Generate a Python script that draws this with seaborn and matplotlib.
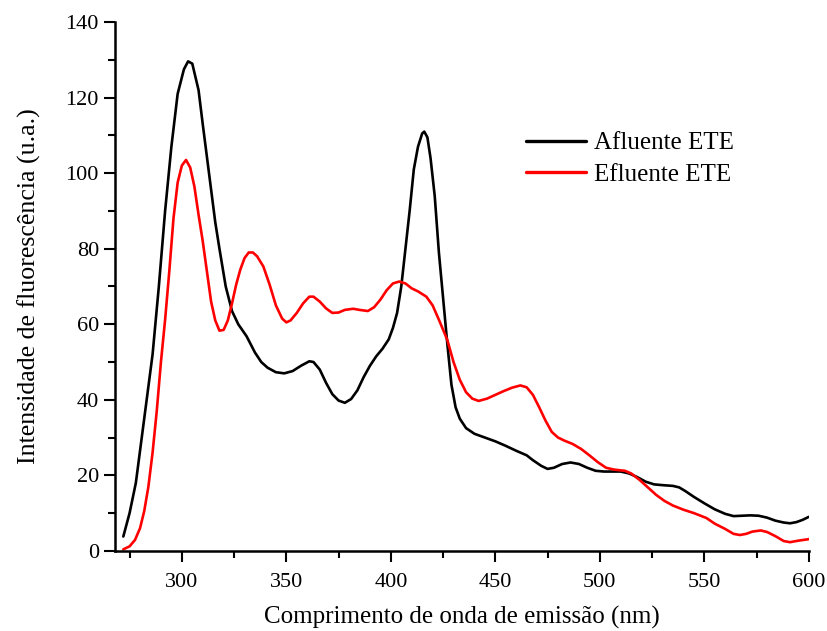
import matplotlib
matplotlib.use("Agg")
import matplotlib.pyplot as plt
import seaborn as sns
import pandas as pd
from matplotlib.ticker import MultipleLocator

series_names = ["Afluente ETE", "Efluente ETE"]

afl_wl = [272, 275, 278, 282, 286, 289, 292, 295, 298, 301, 303, 305, 308, 310, 313, 316, 318, 321, 324, 327,
          331, 335, 338, 341, 345, 349, 353, 357, 361, 363, 366, 369, 372, 375, 378, 381, 384, 387, 390, 393,
          396, 399, 401, 403, 405, 407, 409, 411, 413, 415, 416, 417.5, 419, 421, 423, 425, 427, 429, 431, 433,
          436, 440, 445, 450, 455, 460, 465, 468, 472, 475, 478, 482, 486, 490, 494, 498, 502, 506, 510, 514,
          518, 522, 526, 530, 535, 538, 541, 545, 550, 555, 560, 564, 568, 572, 576, 580, 584, 588, 591, 594,
          597, 600]
afl_val = [3.8, 10, 18, 35, 52, 70, 90, 107, 121, 127.5, 129.6, 129, 122, 113, 100, 87, 80, 70, 63.5, 60,
           56.8, 52.5, 50, 48.5, 47.3, 47, 47.6, 49, 50.2, 50, 48, 44.5, 41.5, 39.8, 39.2, 40.2, 42.5, 46, 49, 51.5,
           53.5, 56, 59, 63, 70, 80, 90, 101, 107, 110.5, 111, 109.5, 104, 94, 79, 67, 55, 44, 38, 35,
           32.5, 31, 30, 29, 27.8, 26.5, 25.3, 24, 22.5, 21.7, 22, 23, 23.4, 23, 22, 21.2, 21, 21, 21, 20.5,
           19.5, 18.3, 17.6, 17.4, 17.2, 16.8, 15.8, 14.3, 12.6, 11, 9.8, 9.2, 9.3, 9.4, 9.3, 8.8, 8, 7.5, 7.3, 7.6,
           8.2, 9]

efl_wl = [272, 275, 277.6, 280, 282, 284, 286, 288, 290, 292, 294, 296, 298, 300, 302, 304, 306, 308, 310, 312,
          314, 316, 318, 320, 322, 324, 326, 328, 330, 332, 334, 336, 339, 342, 345, 348, 350, 352, 355, 358,
          361, 363, 366, 369, 372, 375, 378, 382, 385, 389, 392, 395, 398, 401, 404, 407, 410, 413, 417, 420,
          423, 427, 430, 433, 436, 439, 442, 446, 450, 454, 458, 462, 465, 468, 471, 474, 477, 480, 483, 487,
          491, 495, 499, 503, 507, 512, 515, 519, 523, 527, 531, 535, 540, 545, 551, 555, 560, 564, 567, 570,
          573, 577, 580, 584, 588, 591, 595, 600]
efl_val = [0.4, 1.2, 2.9, 6, 10.5, 17, 26, 37, 50, 61.2, 74, 88, 97.5, 102, 103.5, 101.5, 96.5, 89, 82, 74,
           66, 61, 58.3, 58.5, 61, 65.5, 70.5, 74.5, 77.5, 79, 79, 78, 75.3, 70.5, 65, 61.5, 60.5, 61, 63, 65.5,
           67.3, 67.3, 66, 64.2, 63, 63.1, 63.8, 64.1, 63.8, 63.5, 64.5, 66.5, 69, 70.8, 71.3, 70.8, 69.5, 68.7, 67.3, 65,
           61.2, 55.9, 50, 45.3, 42, 40.3, 39.7, 40.3, 41.3, 42.3, 43.2, 43.8, 43.3, 41.3, 38, 34.5, 31.5, 30, 29.2, 28.3,
           27, 25.3, 23.5, 22, 21.5, 21.2, 20.5, 18.8, 16.8, 14.8, 13.2, 12, 10.9, 10, 8.7, 7.2, 5.8, 4.5, 4.2, 4.5,
           5.1, 5.4, 5, 3.9, 2.6, 2.3, 2.7, 3.1]

colors = ["#000000", "#ff0000"]

df = pd.concat([
    pd.DataFrame({"wl": afl_wl, "val": afl_val, "serie": series_names[0]}),
    pd.DataFrame({"wl": efl_wl, "val": efl_val, "serie": series_names[1]}),
], ignore_index=True)

sns.set_style("ticks")
plt.rcParams["font.family"] = ["Liberation Serif", "DejaVu Serif"]
plt.rcParams["text.color"] = "black"
plt.rcParams["axes.labelcolor"] = "black"
plt.rcParams["xtick.color"] = "black"
plt.rcParams["ytick.color"] = "black"
plt.rcParams["axes.edgecolor"] = "black"

fig = plt.figure(figsize=(8.27, 6.31), dpi=100)
ax = fig.add_axes([0.139, 0.127, 0.839, 0.838])

sns.lineplot(data=df, x="wl", y="val", hue="serie", palette=dict(zip(series_names, colors)),
             sort=False, estimator=None, linewidth=1.9, ax=ax)
for ln in ax.get_lines():
    ln.set_solid_joinstyle("round")

ax.set_xlim(268, 600)
ax.set_ylim(0, 140)
ax.xaxis.set_major_locator(MultipleLocator(50))
ax.xaxis.set_minor_locator(MultipleLocator(25))
ax.yaxis.set_major_locator(MultipleLocator(20))
ax.yaxis.set_minor_locator(MultipleLocator(10))
ax.tick_params(axis="both", which="major", length=8, width=1.5, labelsize=16, colors="black", direction="out")
ax.tick_params(axis="x", which="major", pad=8)
ax.tick_params(axis="both", which="minor", length=5, width=1.5, direction="out", colors="black")
for s in ["top", "right"]:
    ax.spines[s].set_visible(False)
for s in ["left", "bottom"]:
    ax.spines[s].set_linewidth(1.8)
    ax.spines[s].set_color("black")

ax.set_xlabel("Comprimento de onda de emissão (nm)", fontsize=18, labelpad=10, color="black")
ax.set_ylabel("Intensidade de fluorescência (u.a.)", fontsize=18.6, labelpad=18, color="black")

leg = ax.legend(loc="upper left", bbox_to_anchor=(0.56, 0.835), frameon=False, fontsize=18,
                handlelength=2.4, handletextpad=0.3, labelspacing=0.35)
for line in leg.get_lines():
    line.set_linewidth(2.4)
for t in leg.get_texts():
    t.set_color("black")

fig.savefig("out.png", dpi=100)
